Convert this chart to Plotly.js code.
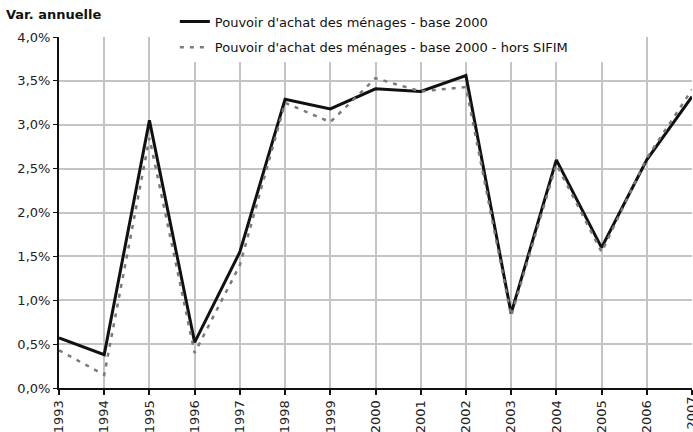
<!DOCTYPE html>
<html>
<head>
<meta charset="utf-8">
<script src="https://cdn.plot.ly/plotly-3.0.1.min.js"></script>
<style>body{margin:0;padding:0;background:#fff}</style>
</head>
<body>
<div id="graph" style="width:693px;height:432px"></div>
<script>
// years and series (% annual change)
var years = [1993,1994,1995,1996,1997,1998,1999,2000,2001,2002,2003,2004,2005,2006,2007]
var base2000 = [0.57,0.38,3.05,0.52,1.55,3.29,3.18,3.41,3.38,3.56,0.85,2.60,1.60,2.60,3.32]
var horsSifim = [0.43,0.15,2.85,0.40,1.40,3.25,3.03,3.53,3.38,3.43,0.82,2.55,1.55,2.62,3.40]
var yTicks = [0,0.5,1,1.5,2,2.5,3,3.5,4]
var yLabels = ['0,0%','0,5%','1,0%','1,5%','2,0%','2,5%','3,0%','3,5%','4,0%']

var traces = [
  {
    x: years, y: base2000,
    name: 'Pouvoir d\'achat des ménages - base 2000',
    mode: 'lines', legendgroup: 'a',
    line: {color: '#111', width: 3}
  },
  {
    x: years, y: horsSifim,
    name: 'Pouvoir d\'achat des ménages - base 2000 - hors SIFIM',
    mode: 'lines', legendgroup: 'b',
    line: {color: '#7a7a7a', width: 2.5, dash: '4px,6px'}
  }
]

var layout = {
  width: 693, height: 432,
  margin: {l: 59, r: 1, t: 37, b: 44, autoexpand: false},
  paper_bgcolor: 'white', plot_bgcolor: 'white',
  font: {family: 'DejaVu Sans, sans-serif', size: 13, color: '#222'},
  showlegend: true,
  legend: {
    x: 0.183, xanchor: 'left', y: 0.985, yanchor: 'top', yref: 'container',
    bgcolor: 'rgba(0,0,0,0)', borderwidth: 0, tracegroupgap: 6,
    font: {size: 13, color: '#111'}
  },
  xaxis: {
    range: [1993, 2007], tickmode: 'array', tickvals: years,
    ticktext: years.map(String), tickangle: -90,
    showgrid: true, gridcolor: '#c4c4c4', gridwidth: 2,
    showline: true, linecolor: '#111', linewidth: 2,
    ticks: 'outside', ticklen: 5, tickcolor: '#111', tickwidth: 2,
    zeroline: false
  },
  yaxis: {
    range: [0, 4], tickmode: 'array', tickvals: yTicks, ticktext: yLabels,
    showgrid: true, gridcolor: '#c4c4c4', gridwidth: 2,
    showline: true, linecolor: '#111', linewidth: 2,
    ticks: 'outside', ticklen: 4, tickcolor: '#111', tickwidth: 1,
    zeroline: false
  },
  shapes: [
    // white box under legend hiding grid
    {type: 'rect', xref: 'paper', yref: 'paper', x0: 0.147, x1: 0.878, y0: 0.929, y1: 1.2,
     fillcolor: 'white', line: {width: 0}, layer: 'above'}
  ],
  annotations: [
    {text: '<b>Var. annuelle</b>', xref: 'paper', yref: 'paper', x: -0.087, y: 1.063,
     xanchor: 'left', yanchor: 'middle', showarrow: false, font: {size: 13, color: '#111'}},
    // last year label, cut by the right edge as in the source
    {text: String(years[years.length - 1]), xref: 'x', yref: 'paper', x: years[years.length - 1], y: -0.02,
     xanchor: 'center', yanchor: 'top', textangle: -90, showarrow: false, font: {size: 13, color: '#222'}}
  ]
}

Plotly.newPlot('graph', traces, layout, {displayModeBar: false, staticPlot: true})
</script>
</body>
</html>
